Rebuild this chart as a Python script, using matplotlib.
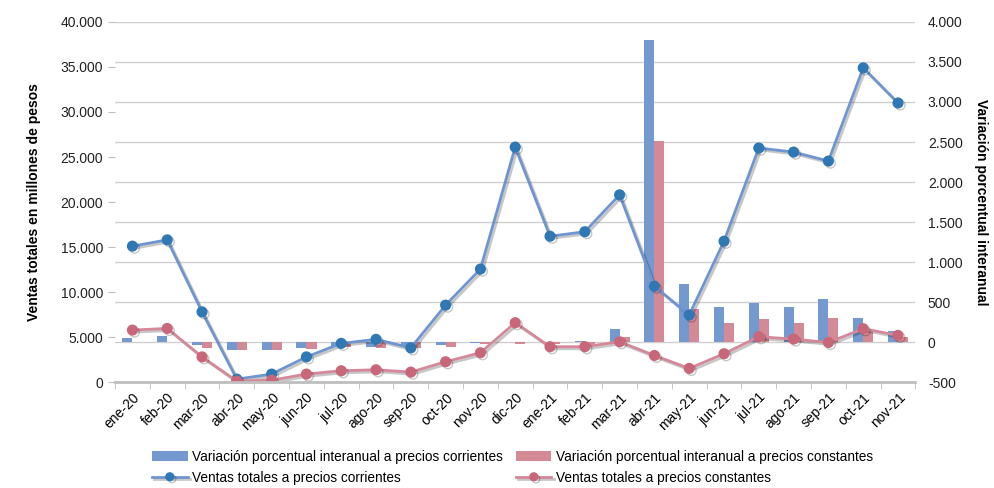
import matplotlib
matplotlib.use("Agg")
import matplotlib.pyplot as plt
import matplotlib.patheffects as pe
from matplotlib.ticker import FuncFormatter, MultipleLocator
import numpy as np

plt.rcParams['font.family'] = ['Liberation Sans', 'DejaVu Sans']

months = ["ene-20", "feb-20", "mar-20", "abr-20", "may-20", "jun-20", "jul-20",
          "ago-20", "sep-20", "oct-20", "nov-20", "dic-20", "ene-21", "feb-21",
          "mar-21", "abr-21", "may-21", "jun-21", "jul-21", "ago-21", "sep-21",
          "oct-21", "nov-21"]

# ventas totales (millones de pesos)
ventas_corrientes = [15100, 15800, 7800, 330, 890, 2800, 4300, 4750, 3800, 8550,
                     12550, 26100, 16200, 16700, 20800, 10650, 7450, 15650,
                     26000, 25550, 24550, 34900, 31000]
ventas_constantes = [5780, 5960, 2800, 110, 220, 890, 1260, 1370, 1110, 2260,
                     3260, 6600, 3930, 3930, 4480, 2960, 1520, 3150, 5040, 4780,
                     4400, 5930, 5190]

# variacion porcentual interanual
var_corrientes = [50, 70, -40, -95, -95, -80, -45, -65, -60, -40, -8, -5, -5, 15,
                  162, 3775, 725, 442, 492, 433, 533, 300, 137]
var_constantes = [5, 5, -75, -95, -95, -90, -65, -80, -80, -65, -30, -25, -30, -50,
                  58, 2512, 412, 242, 283, 242, 304, 150, 58]


def miles(v, pos):
    return f"{int(v):,}".replace(",", ".")


fig = plt.figure(figsize=(9.95, 4.88), dpi=100)
ax1 = fig.add_axes([0.1156, 0.217, 0.8044, 0.738])
ax2 = ax1.twinx()

x = np.arange(len(months))
w = 0.29

ax2.bar(x - w / 2, var_corrientes, w, color="#7399cf", zorder=2,
        label="Variación porcentual interanual a precios corrientes")
ax2.bar(x + w / 2, var_constantes, w, color="#d48a96", zorder=2,
        label="Variación porcentual interanual a precios constantes")

shadow = [pe.SimpleLineShadow(offset=(1.5, -1.5), alpha=0.22), pe.Normal()]
ax1.plot(x, ventas_corrientes, color="#6f95d0", lw=2, marker="o", ms=7,
         mfc="#2f78b3", mec="#2f78b3", path_effects=shadow,
         label="Ventas totales a precios corrientes")
ax1.plot(x, ventas_constantes, color="#d4889a", lw=2, marker="o", ms=7,
         mfc="#c9677a", mec="#c9677a", path_effects=shadow,
         label="Ventas totales a precios constantes")

ax1.set_zorder(ax2.get_zorder() + 1)
ax1.patch.set_visible(False)

ax1.set_xlim(-0.5, len(months) - 0.5)
ax1.set_ylim(0, 40000)
ax2.set_ylim(-500, 4000)
ax1.yaxis.set_major_locator(MultipleLocator(5000))
ax2.yaxis.set_major_locator(MultipleLocator(500))
ax1.yaxis.set_major_formatter(FuncFormatter(miles))
ax2.yaxis.set_major_formatter(FuncFormatter(miles))

ax2.grid(axis="y", color="#d0d0d0", lw=1, zorder=0)
ax2.set_axisbelow(True)

ax1.set_xticks(x)
ax1.set_xticklabels(months, rotation=45, ha="right", rotation_mode="anchor")
ax1.set_xticks(np.arange(-0.5, len(months), 1), minor=True)
ax1.tick_params(axis="x", which="major", length=0, labelsize=10, pad=6)
ax1.tick_params(axis="x", which="minor", length=5, color="#bfbfbf")
ax1.tick_params(axis="y", length=5, color="#bfbfbf", labelsize=10, labelcolor="#222222")
ax2.tick_params(axis="y", length=0, labelsize=10, labelcolor="#222222", pad=9)

for a in (ax1, ax2):
    for s in ("top", "left", "right"):
        a.spines[s].set_visible(False)
ax2.spines["bottom"].set_visible(False)
ax1.spines["bottom"].set_color("#bfbfbf")
ax1.spines["bottom"].set_linewidth(2)

ax1.set_ylabel("Ventas totales en millones de pesos", fontsize=10, fontweight="bold",
               labelpad=14)
ax2.set_ylabel("Variación porcentual interanual", fontsize=10, fontweight="bold",
               rotation=270, labelpad=18)

h1, l1 = ax1.get_legend_handles_labels()
h2, l2 = ax2.get_legend_handles_labels()
handles = [h2[0], h1[0], h2[1], h1[1]]
labels = [l2[0], l1[0], l2[1], l1[1]]
fig.legend(handles, labels, ncol=2, loc="lower center", bbox_to_anchor=(0.515, -0.018),
           frameon=False, fontsize=9.8, handlelength=2.6, handletextpad=0.3,
           columnspacing=1.0, labelspacing=0.5, markerscale=0.8)

fig.savefig("out.png", dpi=100)
